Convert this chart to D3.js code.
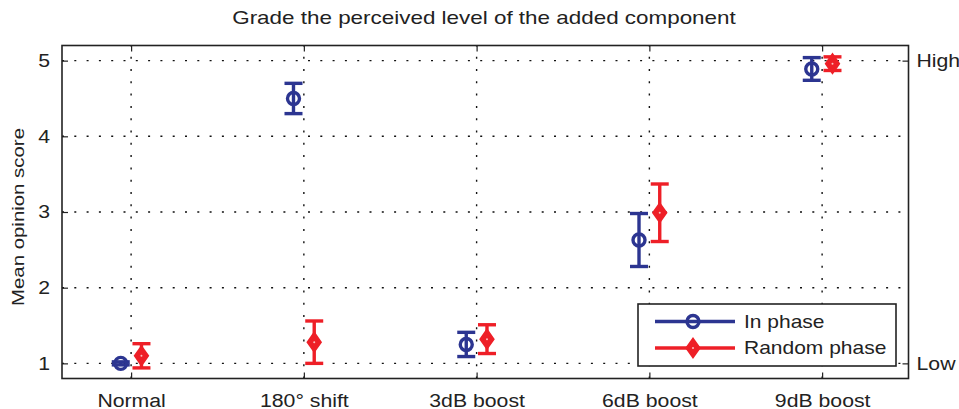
<!DOCTYPE html>
<html>
<head>
<meta charset="utf-8">
<script src="https://cdn.jsdelivr.net/npm/d3@7"></script>
<style>
  html, body { margin: 0; padding: 0; background: #fff; }
  text { font-family: "Liberation Sans", Arial, sans-serif; fill: #222; }
</style>
</head>
<body>
<svg id="chart" width="959" height="409"></svg>
<script>
// Conditions on the x axis
const categories = ["Normal", "180° shift", "3dB boost", "6dB boost", "9dB boost"];
// Mean opinion scores and half-width of error bars
const inPhaseMean = [1.0, 4.5, 1.25, 2.63, 4.89];
const inPhaseErr  = [0.02, 0.2, 0.16, 0.35, 0.15];
const randomMean  = [1.1, 1.28, 1.32, 2.99, 4.96];
const randomErr   = [0.16, 0.28, 0.19, 0.38, 0.09];
const yTicks = [1, 2, 3, 4, 5];
const rightTicks = [{v: 1, label: "Low"}, {v: 5, label: "High"}];

const blue = "#2c3591";
const red = "#ee1f27";
const ink = "#222";

const svg = d3.select("#chart");
const m = {left: 62, top: 45.5, right: 959 - 908.5, bottom: 409 - 378.5};
const W = 959 - m.left - m.right, H = 409 - m.top - m.bottom;
const g = svg.append("g").attr("transform", `translate(${m.left},${m.top})`);

const x = d3.scaleLinear().domain([0.6, 5.5]).range([0, W]);
const y = d3.scaleLinear().domain([0.8, 5.2]).range([H, 0]);
const offset = 0.06;

// Dotted grid
g.append("g").selectAll("line").data(yTicks).join("line")
  .attr("x1", 0).attr("x2", W).attr("y1", d => y(d)).attr("y2", d => y(d))
  .attr("stroke", "#111").attr("stroke-width", 1.4).attr("stroke-dasharray", "2,10.3");
g.append("g").selectAll("line").data(categories).join("line")
  .attr("x1", (d, i) => x(i + 1)).attr("x2", (d, i) => x(i + 1))
  .attr("y1", H).attr("y2", 0)
  .attr("stroke", "#111").attr("stroke-width", 1.4).attr("stroke-dasharray", "2,10.3");

// Axes with inward ticks
const tickLen = 6;
const leftAx = g.append("g").call(d3.axisLeft(y).tickValues(yTicks).tickFormat(d3.format("d")).tickSizeInner(-tickLen).tickSizeOuter(0).tickPadding(12));
const bottomAx = g.append("g").attr("transform", `translate(0,${H})`)
  .call(d3.axisBottom(x).tickValues([1, 2, 3, 4, 5]).tickFormat(d => categories[d - 1]).tickSizeInner(-tickLen).tickSizeOuter(0));
const topAx = g.append("g").call(d3.axisTop(x).tickValues([1, 2, 3, 4, 5]).tickFormat("").tickSizeInner(-tickLen).tickSizeOuter(0));
const rightAx = g.append("g").attr("transform", `translate(${W},0)`)
  .call(d3.axisRight(y).tickValues(rightTicks.map(d => d.v)).tickFormat(d => rightTicks.find(t => t.v === d).label).tickSizeInner(-tickLen).tickSizeOuter(0).tickPadding(8));
[leftAx, bottomAx, topAx, rightAx].forEach(a => {
  a.select(".domain").remove();
  a.selectAll(".tick line").attr("stroke", ink).attr("stroke-width", 1.2);
  a.selectAll("text").attr("font-size", 18).attr("fill", ink)
    .style("font-family", "'Liberation Sans', Arial, sans-serif");
});
bottomAx.selectAll("text").attr("y", 28).attr("dy", 0);

// Frame
g.append("rect").attr("width", W).attr("height", H)
  .attr("fill", "none").attr("stroke", ink).attr("stroke-width", 1.6);

// Error bars and markers
function drawSeries(means, errs, dx, color, marker) {
  const s = g.append("g");
  const cap = 9;
  means.forEach((mv, i) => {
    const cx = x(i + 1 + dx), lo = y(mv - errs[i]), hi = y(mv + errs[i]);
    s.append("line").attr("x1", cx).attr("x2", cx).attr("y1", lo).attr("y2", hi)
      .attr("stroke", color).attr("stroke-width", 3.4);
    [lo, hi].forEach(yy => s.append("line").attr("x1", cx - cap).attr("x2", cx + cap)
      .attr("y1", yy).attr("y2", yy).attr("stroke", color).attr("stroke-width", 3.4));
    marker(s, cx, y(mv), color);
  });
}
function circleMarker(sel, cx, cy, color) {
  sel.append("circle").attr("cx", cx).attr("cy", cy).attr("r", 6)
    .attr("fill", "none").attr("stroke", color).attr("stroke-width", 3.4);
}
function diamondMarker(sel, cx, cy, color) {
  sel.append("path").attr("d", `M${cx},${cy - 8.5}L${cx + 6},${cy}L${cx},${cy + 8.5}L${cx - 6},${cy}Z`)
    .attr("fill", color).attr("stroke", color).attr("stroke-width", 3).attr("stroke-linejoin", "miter");
  sel.append("circle").attr("cx", cx).attr("cy", cy).attr("r", 1).attr("fill", "#f8c0c0");
}
drawSeries(inPhaseMean, inPhaseErr, -offset, blue, circleMarker);
drawSeries(randomMean, randomErr, offset, red, diamondMarker);

// Legend
const legend = [{name: "In phase", color: blue, marker: circleMarker},
                {name: "Random phase", color: red, marker: diamondMarker}];
const lg = svg.append("g").attr("transform", "translate(638,304)");
lg.append("rect").attr("width", 258).attr("height", 62).attr("fill", "#fff")
  .attr("stroke", ink).attr("stroke-width", 1.6);
legend.forEach((d, i) => {
  const yy = 17.5 + i * 26.5;
  lg.append("line").attr("x1", 17).attr("x2", 97).attr("y1", yy).attr("y2", yy)
    .attr("stroke", d.color).attr("stroke-width", 3.4);
  d.marker(lg, 55, yy, d.color);
  lg.append("text").attr("x", 106).attr("y", yy).attr("dy", "0.35em")
    .attr("font-size", 17.8).text(d.name);
});

// Title and y label
svg.append("text").attr("x", 484).attr("y", 24).attr("text-anchor", "middle")
  .attr("font-size", 19).text("Grade the perceived level of the added component");
svg.append("text").attr("transform", "translate(24,217) rotate(-90)").attr("text-anchor", "middle")
  .attr("font-size", 17.3).text("Mean opinion score");

// Slightly wide lettering throughout the figure
const stretch = 1.18;
svg.selectAll("text").each(function () {
  const len = this.getComputedTextLength();
  if (len > 0) d3.select(this).attr("textLength", len * stretch).attr("lengthAdjust", "spacingAndGlyphs");
});
</script>
</body>
</html>
